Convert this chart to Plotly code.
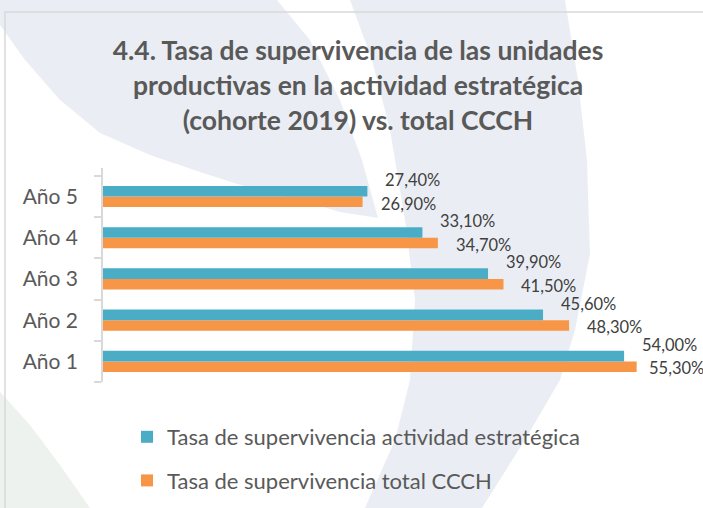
import plotly.graph_objects as go

# ---- data ----
categories = ["Año 1", "Año 2", "Año 3", "Año 4", "Año 5"]
estrategica = [54.0, 45.6, 39.9, 33.1, 27.4]
total_ccch = [55.3, 48.3, 41.5, 34.7, 26.9]
series_names = ["Tasa de supervivencia actividad estratégica",
                "Tasa de supervivencia total CCCH"]
title_lines = ["4.4. Tasa de supervivencia de las unidades",
               "productivas en la actividad estratégica",
               "(cohorte 2019) vs. total CCCH"]

# ---- style ----
W, H = 703, 508
ML, MR, MT, MB = 103, 21, 168, 126
XMAX = 60
BLUE = "#4BACC6"
ORANGE = "#F79646"
FONT = "Lato, 'Open Sans', sans-serif"
TXT = "#595959"
LBL = "#404040"
WM_BLUE = "#eaeef4"
WM_GREEN = "#edf2ee"
PW = W - ML - MR
PH = H - MT - MB


def fmt(v):
    return f"{v:.2f}".replace(".", ",") + "%"


def pp(px, py):
    """pixel -> paper coords (decorative shapes only)"""
    return (px - ML) / PW, (H - MB - py) / PH


def path(points):
    pts = [pp(x, y) for x, y in points]
    return "M " + " L ".join(f"{x:.4f},{y:.4f}" for x, y in pts) + " Z"


fig = go.Figure()
fig.add_trace(go.Bar(
    y=categories, x=total_ccch, orientation="h", name=series_names[1],
    marker=dict(color=ORANGE, line=dict(width=0)), legendgroup="b", legendrank=2,
    hoverinfo="skip"))
fig.add_trace(go.Bar(
    y=categories, x=estrategica, orientation="h", name=series_names[0],
    marker=dict(color=BLUE, line=dict(width=0)), legendgroup="a", legendrank=1,
    hoverinfo="skip"))

px_per_unit = PW / XMAX
annotations = []
for i, c in enumerate(categories):
    for vals, ysh in ((estrategica, 16.5), (total_ccch, -7)):
        v = vals[i]
        end_px = ML + v * px_per_unit
        xsh = min(16, W - 1 - 55 - end_px)
        annotations.append(dict(
            x=v, y=c, xref="x", yref="y", text=fmt(v), showarrow=False,
            xanchor="left", yanchor="middle", xshift=xsh, yshift=ysh,
            font=dict(family=FONT, size=16.5, color=LBL)))

# decorative watermark shapes and chart frame
shapes = [
    dict(type="path", xref="paper", yref="paper", layer="below",
         line=dict(width=0), fillcolor=WM_BLUE,
         path=path([(0, 0), (277, 0), (310, 40), (340, 100), (362, 160),
                    (378, 218), (340, 212), (300, 200), (250, 188),
                    (200, 172), (150, 155), (100, 133), (60, 100),
                    (25, 60), (0, 25)])),
    dict(type="path", xref="paper", yref="paper", layer="below",
         line=dict(width=0), fillcolor=WM_BLUE,
         path=path([(350, 0), (372, 60), (390, 130), (405, 220),
                    (415, 300), (410, 380), (395, 440), (365, 508),
                    (482, 508), (525, 440), (560, 380), (575, 330),
                    (590, 254), (587, 160), (578, 80), (565, 0)])),
    dict(type="path", xref="paper", yref="paper", layer="below",
         line=dict(width=0), fillcolor=WM_GREEN,
         path=path([(0, 392), (30, 425), (60, 465), (90, 508), (0, 508)])),
    dict(type="path", xref="paper", yref="paper", layer="below",
         line=dict(color="#d9d9d9", width=1.5), fillcolor="rgba(0,0,0,0)",
         path="M {0:.4f},{1:.4f} L {2:.4f},{3:.4f} L {4:.4f},{5:.4f}".format(
             *pp(5, 520), *pp(5, 12), *pp(720, 12))),
]

title_html = "<br>".join(f"<span style='font-size:26.5px'>{t}</span>" for t in title_lines)

fig.update_layout(
    width=W, height=H,
    margin=dict(l=ML, r=MR, t=MT, b=MB, autoexpand=False),
    paper_bgcolor="white", plot_bgcolor="rgba(0,0,0,0)",
    barmode="group", bargap=0.486, bargroupgap=0,
    title=dict(text=title_html, x=358 / W, xanchor="center",
               y=1 - 60 / H, yanchor="top", yref="container",
               font=dict(family=FONT, size=27, color=TXT, weight="bold")),
    xaxis=dict(range=[0, XMAX], visible=False, fixedrange=True),
    yaxis=dict(categoryorder="array", categoryarray=categories,
               showline=True, linecolor="#d9d9d9", linewidth=1.5,
               ticks="outside", tickson="boundaries", ticklen=7,
               tickcolor="#d9d9d9", tickwidth=1.5, ticklabelstandoff=19,
               tickfont=dict(family=FONT, size=21, color=TXT),
               showgrid=False, zeroline=False, fixedrange=True),
    showlegend=True,
    legend=dict(orientation="v", x=(127 - ML) / PW, xanchor="left",
                y=(H - MB - 416) / PH, yanchor="top",
                font=dict(family=FONT, size=22, color=TXT),
                bgcolor="rgba(0,0,0,0)", tracegroupgap=12,
                itemclick=False, itemdoubleclick=False),
    annotations=annotations,
    shapes=shapes,
)

fig.write_html("out.html", config={"displayModeBar": False},
               post_script="document.body.style.margin='0';")
